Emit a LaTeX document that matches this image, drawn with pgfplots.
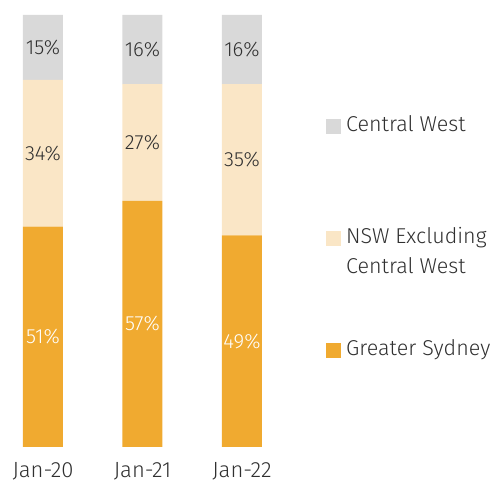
\documentclass[border=0pt]{standalone}
\usepackage{pgfplots}
\pgfplotsset{compat=1.18}
\usepackage{fontspec}
\setmainfont{Fira Sans Light}
\definecolor{cgray}{HTML}{D9D9D9}
\definecolor{cbeige}{HTML}{FAE6C6}
\definecolor{corange}{HTML}{F0AA30}
\definecolor{ctext}{HTML}{303030}
\newcommand{\lbl}{\fontsize{20.5bp}{24bp}\selectfont}
\newcommand{\leg}{\fontsize{21.5bp}{25bp}\selectfont}
\begin{document}
\begin{tikzpicture}[x=1bp,y=1bp]
\useasboundingbox (0bp,0bp) rectangle (493bp,485bp);
\pgfplotsset{
  common/.style={
    at={(0bp,38bp)}, anchor=south west,
    scale only axis, width=280bp, height=432bp,
    xmin=-0.432, xmax=2.382, ymin=0, ymax=100,
  }
}
\begin{axis}[common,
  ybar stacked, bar width=0.402,
  axis line style={draw=none}, tick style={draw=none},
  ytick=\empty, xtick={0,1,2}, xticklabels={Jan-20,Jan-21,Jan-22},
  xticklabel style={anchor=base, yshift=-31bp, font=\fontsize{22bp}{26bp}\selectfont, text=ctext},
]
\addplot[fill=corange, draw=none] coordinates {(0,51) (1,57) (2,49)};
\addplot[fill=cbeige, draw=none] coordinates {(0,34) (1,27) (2,35)};
\addplot[fill=cgray, draw=none] coordinates {(0,15) (1,16) (2,16)};
\end{axis}
\begin{axis}[common, hide axis]
\addplot[draw=none, mark=none, nodes near coords, point meta=explicit symbolic,
  every node near coord/.append style={anchor=center, font=\lbl, text=ctext}]
  coordinates {(0,92.5)[15\%] (1,92)[16\%] (2,92)[16\%]
               (0,68)[34\%] (1,70.5)[27\%] (2,66.5)[35\%]};
\addplot[draw=none, mark=none, nodes near coords, point meta=explicit symbolic,
  every node near coord/.append style={anchor=center, font=\lbl, text=white}]
  coordinates {(0,25.5)[51\%] (1,28.5)[57\%] (2,24.5)[49\%]};
\end{axis}
% legend
\fill[cgray] (326bp,351bp) rectangle (341bp,366bp);
\fill[cbeige] (326bp,239bp) rectangle (341bp,254bp);
\fill[corange] (326bp,127bp) rectangle (341bp,142bp);
\node[anchor=base west, inner sep=0pt, font=\leg, text=ctext] at (346bp,353bp) {Central West};
\node[anchor=base west, inner sep=0pt, font=\leg, text=ctext] at (346bp,241bp) {NSW Excluding};
\node[anchor=base west, inner sep=0pt, font=\leg, text=ctext] at (346bp,211bp) {Central West};
\node[anchor=base west, inner sep=0pt, font=\leg, text=ctext] at (346bp,129bp) {Greater Sydney};
\end{tikzpicture}
\end{document}
